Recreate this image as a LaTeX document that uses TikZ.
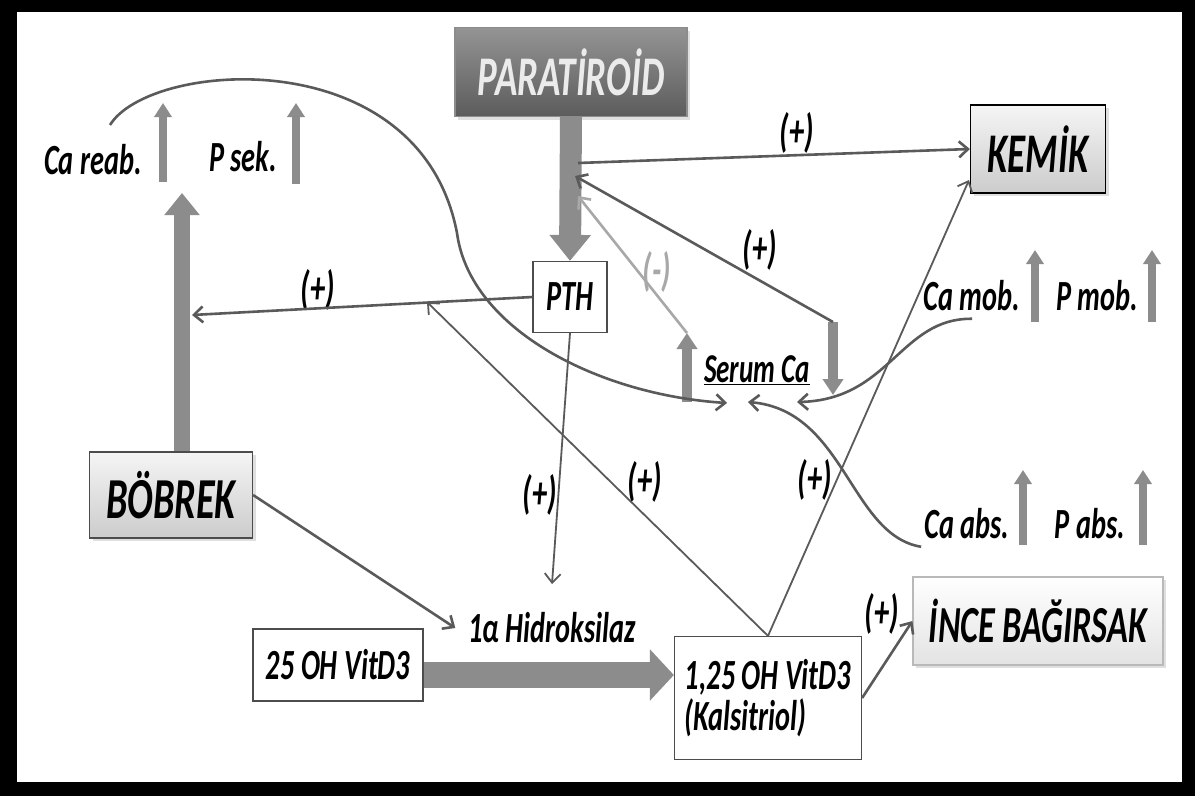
\documentclass[tikz,border=0pt]{standalone}
\usepackage{fontspec}
\setmainfont{Carlito}[FakeStretch=0.66]
\usetikzlibrary{arrows.meta,shadows}
\definecolor{lnk}{HTML}{5A5A5A}
\definecolor{lnklight}{HTML}{A8A8A8}
\definecolor{fatg}{HTML}{8C8C8C}

\begin{document}
\begin{tikzpicture}[x=1pt,y=-1pt,
	every node/.style={font=\bfseries\itshape\fontsize{43}{41}\selectfont},
	fsz/.style={font=\bfseries\itshape\fontsize{#1}{#1}\selectfont},
	sgn/.style={fsz=46},
	box/.style={draw=gray!60!black, line width=1.2pt, fill=white, inner sep=0pt},
	grbox/.style={box, top color=gray!8, bottom color=gray!40, drop shadow={opacity=0.25, shadow xshift=3pt, shadow yshift=-3pt}},
	conn/.style={draw=lnk, line width=2.6pt, -{Straight Barb[length=9pt,width=16pt]}},
	thin/.style={conn, line width=1.8pt},
	fatarr/.style args={#1/#2/#3}{draw=fatg, line width=#1pt, -{Triangle[width=#2pt,length=#3pt]}},
	uparr/.style={fatarr=8/17/14}]
	% frame
	\fill[black] (0,0) rectangle (1195,796);
	\fill[white] (17,12) rectangle (1182,782);
	\useasboundingbox (0,0) rectangle (1195,796);

	% organs and substances
	\node[box, draw=black!45, top color=black!42, bottom color=black!64, text=white!92!black, fsz=56, minimum width=232pt, minimum height=89pt, drop shadow={opacity=0.25, shadow xshift=3pt, shadow yshift=-3pt}] (para) at (571,72) {PARATİROİD};
	\node[box, minimum width=74pt, minimum height=71pt] (pth) at (570,297) {PTH};
	\node[grbox, draw=black, fsz=56, minimum width=135pt, minimum height=88pt] (kemik) at (1038,149) {KEMİK};
	\node[grbox, fsz=58, minimum width=163pt, minimum height=86pt] (bobrek) at (171,495) {BÖBREK};
	\node[grbox, draw=gray!55, top color=white, bottom color=gray!22, fsz=52, minimum width=250pt, minimum height=88pt] (ince) at (1038,621) {İNCE BAĞIRSAK};
	\node[box, minimum width=170pt, minimum height=72pt] (vit25) at (338,665) {25 OH VitD3};
	\node[box, align=left, minimum width=187pt, minimum height=123pt] (vit125) at (768,698) {1,25 OH VitD3\\(Kalsitriol)};
	\node[inner sep=3pt] (hidro) at (552,628) {1α Hidroksilaz};
	\node[fsz=41] (serum) at (757,370) {\underline{Serum Ca}};

	% effects
	\node (careab) at (93,160) {Ca reab.};
	\node (psek) at (243,157) {P sek.};
	\node (camob) at (972,296) {Ca mob.};
	\node (pmob) at (1097,296) {P mob.};
	\node (caabs) at (967,524) {Ca abs.};
	\node (pabs) at (1090,524) {P abs.};
	\draw[uparr] (163,182) -- (163,103);
	\draw[uparr] (296,184) -- (296,103);
	\draw[uparr] (1035,322) -- (1035,250);
	\draw[uparr] (1152,322) -- (1152,250);
	\draw[uparr] (1023,545) -- (1023,470);
	\draw[uparr] (1143,545) -- (1143,470);

	% signs
	\node[sgn] (s1) at (318,290) {(+)};
	\node[sgn] (s2) at (797,133) {(+)};
	\node[sgn] (s3) at (760,250) {(+)};
	\node[sgn, text=lnklight] (s4) at (657,272) {(-)};
	\node[sgn] (s5) at (540,495) {(+)};
	\node[sgn] (s6) at (645,482) {(+)};
	\node[sgn] (s7) at (815,480) {(+)};
	\node[sgn] (s8) at (882,614) {(+)};

	\coordinate (pk) at (578,163);
	\coordinate (pin) at (575,176);
	\coordinate (pneg) at (578,196);
	\coordinate (pa) at (427,302);
	\coordinate (bk) at (192,315);
	\coordinate (btop) at (182,193);
	\coordinate (bbot) at ([xshift=11pt]bobrek.north);
	\coordinate (uptop) at (687,333);
	\coordinate (upbot) at (687,402);
	\coordinate (dntop) at (833,322);
	\coordinate (dnbot) at (833,395);
	\coordinate (kin) at (969,180);
	\coordinate (hin) at (552,584);
	\coordinate (v25e) at ([yshift=-10pt]vit25.east);

	% connectors
	\draw[fatarr=22/40/26] (para.south) -- (pth.north);
	\draw[fatarr=16/34/22] (bbot) -- (btop);
	\draw[fatarr=26/50/24] (v25e) -- (v25e -| vit125.west);
	\draw[fatarr=10/20/16] (upbot) -- (uptop);
	\draw[fatarr=10/20/16] (dntop) -- (dnbot);
	\draw[conn] (pk) -- (kemik.west);
	\draw[conn] (dntop) -- (pin);
	\draw[conn, draw=lnklight] (uptop) -- (pneg);
	\draw[conn] (pth.west) -- (bk);
	\draw[thin] (pth.south) -- (hin);
	\draw[conn] (bobrek.east) -- ([xshift=-10pt]hidro.west);
	\draw[thin] (vit125.north) -- (pa);
	\draw[thin] (vit125.north) -- (kin);
	\draw[conn] (vit125.east) -- (ince.west);
	\draw[conn] (110,125) .. controls (150,60) and (420,40) .. (457,233)
		.. controls (470,330) and (600,395) .. (727,403);
	\draw[conn] ([yshift=-4pt]camob.south) .. controls (900,318) and (890,400) .. (797,402);
	\draw[conn] ([yshift=-4pt]caabs.south west) .. controls (850,535) and (845,410) .. (748,402);
\end{tikzpicture}
\end{document}
